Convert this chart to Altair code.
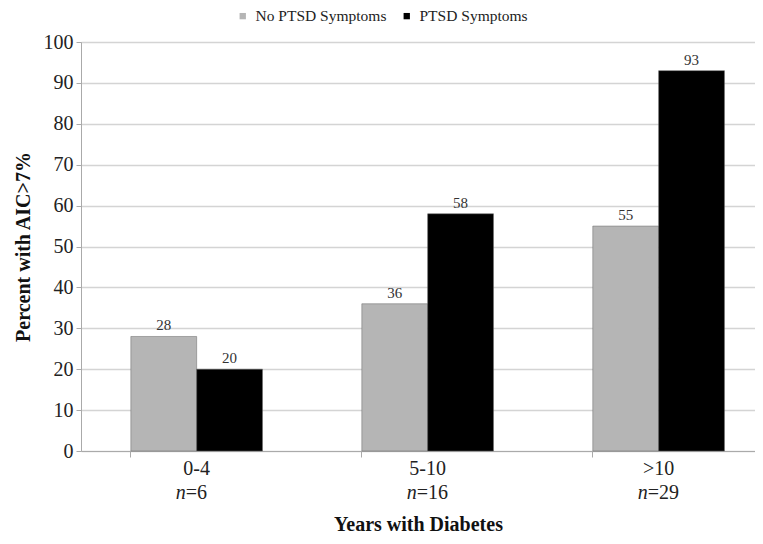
import altair as alt
import pandas as pd

categories = ["0-4", "5-10", ">10"]
n_values = ["=6", "=16", "=29"]
series = ["No PTSD Symptoms", "PTSD Symptoms"]
no_ptsd = [28, 36, 55]
ptsd = [20, 58, 93]

rows = []
for c, a, b in zip(categories, no_ptsd, ptsd):
    rows.append({"cat": c, "series": series[0], "value": a})
    rows.append({"cat": c, "series": series[1], "value": b})
df = pd.DataFrame(rows)
cat_df = pd.DataFrame({"cat": categories, "n": n_values, "nn": ["n"] * 3})

FONT = "Liberation Serif"
W, H = 674, 409

xscale = alt.Scale(domain=categories, paddingInner=0.43, paddingOuter=0.174, align=0.62)
x = alt.X("cat:N", scale=xscale, sort=categories,
          axis=alt.Axis(title="Years with Diabetes", labels=False, bandPosition=0,
                        tickSize=6, tickColor="#aaaaaa", domainColor="#aaaaaa",
                        titleFont=FONT, titleFontSize=20, titleFontWeight="bold",
                        titleColor="#111111", titlePadding=57, grid=False))
xo = alt.XOffset("series:N", sort=series, scale=alt.Scale(domain=series))
y = alt.Y("value:Q", scale=alt.Scale(domain=[0, 100]),
          axis=alt.Axis(title="Percent with AIC>7%", values=list(range(0, 101, 10)),
                        tickSize=5, tickColor="#aaaaaa", domainColor="#aaaaaa",
                        gridColor="#d4d4d4", gridWidth=1.5,
                        labelFont=FONT, labelFontSize=20, labelColor="#222222",
                        labelPadding=3,
                        titleFont=FONT, titleFontSize=20, titleFontWeight="bold",
                        titleColor="#111111", titlePadding=10))
color = alt.Color("series:N", sort=series,
                  scale=alt.Scale(domain=series, range=["#b5b5b5", "#000000"]),
                  legend=alt.Legend(title=None, orient="none", legendX=154, legendY=-34,
                                    direction="horizontal", symbolType="square",
                                    symbolSize=40, symbolStrokeWidth=0,
                                    labelFont=FONT, labelFontSize=15.5,
                                    labelColor="#222222", columnPadding=12,
                                    labelOffset=5))

bars = alt.Chart(df).mark_bar(stroke="#666666", strokeWidth=0.5).encode(
    x=x, xOffset=xo, y=y, color=color)

labels = alt.Chart(df).mark_text(font=FONT, fontSize=15, color="#333333",
                                 baseline="bottom", dy=-3).encode(
    x=alt.X("cat:N", scale=xscale, sort=categories), xOffset=xo,
    y=alt.Y("value:Q"), text=alt.Text("value:Q"))

cat_text = alt.Chart(cat_df).mark_text(font=FONT, fontSize=20, color="#222222",
                                       baseline="middle").encode(
    x=alt.X("cat:N", scale=xscale, sort=categories),
    y=alt.value(H + 18), text="cat:N")

n_italic = alt.Chart(cat_df).mark_text(font=FONT, fontSize=20, fontStyle="italic",
                                       color="#222222", baseline="middle",
                                       align="right", dx=-11).encode(
    x=alt.X("cat:N", scale=xscale, sort=categories),
    y=alt.value(H + 42), text="nn:N")

n_rest = alt.Chart(cat_df).mark_text(font=FONT, fontSize=20, color="#222222",
                                     baseline="middle", align="left", dx=-11).encode(
    x=alt.X("cat:N", scale=xscale, sort=categories),
    y=alt.value(H + 42), text="n:N")

chart = alt.layer(bars, labels, cat_text, n_italic, n_rest).properties(
    width=W, height=H,
    autosize="none",
    padding={"left": 73, "top": 34, "right": 0, "bottom": 85},
).configure_view(stroke=None).configure(background="white")

chart.save("out.html", embed_options={"renderer": "svg", "actions": False})
